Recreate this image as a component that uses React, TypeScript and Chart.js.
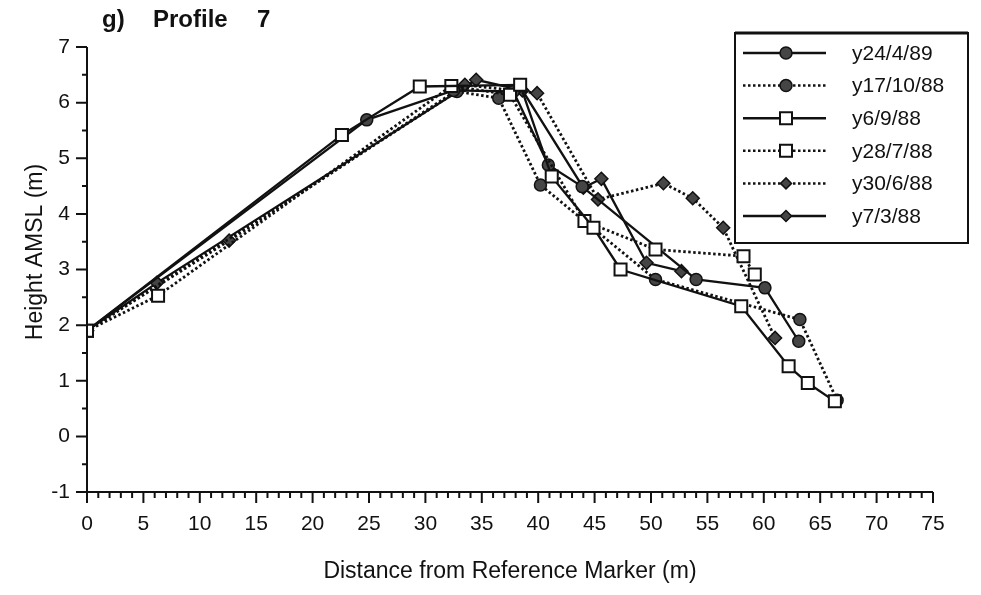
import React, { useEffect, useRef } from "react";
import { Chart, registerables } from "chart.js";

Chart.register(...registerables);

const FONT = "'Liberation Sans', Arial, Helvetica, sans-serif";

const seriesLabels = ["y24/4/89", "y17/10/88", "y6/9/88", "y28/7/88", "y30/6/88", "y7/3/88"];

// y24/4/89 (solid, filled circle)
const dist24Apr89 = [0, 24.8, 32.5, 37.8, 40.9, 43.9, 54.0, 60.1, 63.1];
const height24Apr89 = [1.9, 5.69, 6.22, 6.2, 4.88, 4.49, 2.82, 2.67, 1.71];

// y17/10/88 (dotted, filled circle)
const dist17Oct88 = [0, 32.8, 36.5, 40.2, 50.4, 63.2, 66.5];
const height17Oct88 = [1.9, 6.2, 6.08, 4.52, 2.82, 2.1, 0.65];

// y6/9/88 (solid, open square)
const dist6Sep88 = [0, 22.6, 29.5, 38.4, 41.2, 44.9, 47.3, 58.0, 62.2, 63.9, 66.3];
const height6Sep88 = [1.9, 5.42, 6.29, 6.32, 4.67, 3.75, 3.0, 2.34, 1.26, 0.96, 0.63];

// y28/7/88 (dotted, open square)
const dist28Jul88 = [0, 6.3, 32.3, 37.5, 44.1, 50.4, 58.2, 59.2];
const height28Jul88 = [1.9, 2.53, 6.3, 6.14, 3.87, 3.36, 3.24, 2.91];

// y30/6/88 (dotted, filled diamond)
const dist30Jun88 = [0, 12.6, 33.5, 39.9, 45.3, 51.1, 53.7, 56.4, 61.0];
const height30Jun88 = [1.9, 3.52, 6.32, 6.17, 4.26, 4.55, 4.28, 3.75, 1.77];

// y7/3/88 (solid, filled diamond)
const dist7Mar88 = [0, 6.2, 34.5, 38.6, 44.0, 45.6, 49.6, 52.7];
const height7Mar88 = [1.9, 2.76, 6.41, 6.22, 4.47, 4.63, 3.12, 2.97];

const xTickStep = 5;
const yTickStep = 1;

type Kind = { dotted: boolean; marker: "circle" | "square" | "diamond" };
const kinds: Kind[] = [
  { dotted: false, marker: "circle" },
  { dotted: true, marker: "circle" },
  { dotted: false, marker: "square" },
  { dotted: true, marker: "square" },
  { dotted: true, marker: "diamond" },
  { dotted: false, marker: "diamond" },
];

const seriesX = [dist24Apr89, dist17Oct88, dist6Sep88, dist28Jul88, dist30Jun88, dist7Mar88];
const seriesY = [height24Apr89, height17Oct88, height6Sep88, height28Jul88, height30Jun88, height7Mar88];

const INK = "#111111";
const FILL = "#454545";
const DASH = [2.5, 2.5];

function pointOpts(k: Kind) {
  if (k.marker === "circle")
    return { pointStyle: "circle", pointRadius: 6, pointBackgroundColor: FILL, pointBorderColor: INK, pointBorderWidth: 1.5 };
  if (k.marker === "square")
    return { pointStyle: "rect", pointRadius: 8.5, pointBackgroundColor: "#ffffff", pointBorderColor: INK, pointBorderWidth: 2 };
  return { pointStyle: "rectRot", pointRadius: 6.5, pointBackgroundColor: FILL, pointBorderColor: INK, pointBorderWidth: 1.5 };
}

function drawMarker(ctx: CanvasRenderingContext2D, k: Kind, x: number, y: number) {
  ctx.save();
  ctx.setLineDash([]);
  ctx.strokeStyle = INK;
  if (k.marker === "circle") {
    ctx.fillStyle = FILL;
    ctx.lineWidth = 1.5;
    ctx.beginPath();
    ctx.arc(x, y, 6, 0, Math.PI * 2);
    ctx.fill();
    ctx.stroke();
  } else if (k.marker === "square") {
    ctx.fillStyle = "#ffffff";
    ctx.lineWidth = 2;
    ctx.beginPath();
    ctx.rect(x - 6, y - 6, 12, 12);
    ctx.fill();
    ctx.stroke();
  } else {
    ctx.fillStyle = FILL;
    ctx.lineWidth = 1.5;
    ctx.beginPath();
    ctx.moveTo(x, y - 5.5);
    ctx.lineTo(x + 5.5, y);
    ctx.lineTo(x, y + 5.5);
    ctx.lineTo(x - 5.5, y);
    ctx.closePath();
    ctx.fill();
    ctx.stroke();
  }
  ctx.restore();
}

const decorPlugin = {
  id: "decor",
  afterDraw(chart: any) {
    const ctx: CanvasRenderingContext2D = chart.ctx;
    const xs = chart.scales.x;
    const ys = chart.scales.y;
    const x0 = xs.getPixelForValue(xs.min);
    const x1 = xs.getPixelForValue(xs.max);
    const yT = ys.getPixelForValue(ys.max);
    const yB = ys.getPixelForValue(ys.min);
    ctx.save();
    ctx.strokeStyle = INK;
    ctx.lineWidth = 2;
    ctx.setLineDash([]);
    ctx.beginPath();
    ctx.moveTo(x0, yT);
    ctx.lineTo(x0, yB);
    ctx.moveTo(x0, yB);
    ctx.lineTo(x1, yB);
    ctx.stroke();
    // y ticks (major each unit, minor each half)
    ctx.beginPath();
    for (let i = 0; i <= (ys.max - ys.min) * 2; i++) {
      const v = ys.min + i * 0.5;
      const p = ys.getPixelForValue(v);
      const len = i % 2 === 0 ? 11 : 5;
      ctx.moveTo(x0 - len, p);
      ctx.lineTo(x0, p);
    }
    // x ticks (major each 5, minor each 1)
    for (let v = xs.min; v <= xs.max; v++) {
      const p = xs.getPixelForValue(v);
      const len = v % xTickStep === 0 ? 11 : 6;
      ctx.moveTo(p, yB);
      ctx.lineTo(p, yB + len);
    }
    ctx.stroke();

    // Title
    ctx.fillStyle = INK;
    ctx.font = `bold 24px ${FONT}`;
    ctx.textBaseline = "alphabetic";
    ctx.textAlign = "left";
    ctx.fillText("g)", 102, 27);
    ctx.fillText("Profile", 153, 27);
    ctx.fillText("7", 257, 27);

    // Y axis title
    ctx.save();
    ctx.translate(36, 252);
    ctx.rotate(-Math.PI / 2);
    ctx.font = `23px ${FONT}`;
    ctx.textAlign = "center";
    ctx.textBaseline = "middle";
    ctx.fillText("Height AMSL (m)", 0, 0);
    ctx.restore();

    // Legend box
    const bx = 735, by = 33, bw = 233, bh = 210;
    ctx.lineWidth = 2;
    ctx.strokeRect(bx, by, bw, bh);
    ctx.lineWidth = 3;
    ctx.beginPath();
    ctx.moveTo(bx, by);
    ctx.lineTo(bx + bw, by);
    ctx.stroke();

    ctx.font = `21px ${FONT}`;
    ctx.textAlign = "left";
    ctx.textBaseline = "middle";
    seriesLabels.forEach((lab, i) => {
      const k = kinds[i];
      const ly = 53 + i * 32.6;
      ctx.save();
      ctx.strokeStyle = INK;
      ctx.lineWidth = k.dotted ? 2.5 : 2.5;
      ctx.setLineDash(k.dotted ? DASH : []);
      ctx.beginPath();
      ctx.moveTo(743, ly);
      ctx.lineTo(826, ly);
      ctx.stroke();
      ctx.restore();
      drawMarker(ctx, k, 786, ly);
      ctx.fillStyle = INK;
      ctx.fillText(lab, 852, ly + 1);
    });
    ctx.restore();
  },
};

export default function App() {
  const ref = useRef<HTMLCanvasElement>(null);
  useEffect(() => {
    const datasets = seriesLabels.map((label, i) => ({
      label,
      data: seriesX[i].map((x, j) => ({ x, y: seriesY[i][j] })),
      showLine: true,
      borderColor: INK,
      borderWidth: kinds[i].dotted ? 2.8 : 2.3,
      borderDash: kinds[i].dotted ? DASH : [],
      fill: false,
      tension: 0,
      order: kinds[i].marker === "square" ? 0 : 1,
      ...pointOpts(kinds[i]),
    }));
    const chart = new Chart(ref.current as HTMLCanvasElement, {
      type: "scatter",
      data: { datasets: datasets as any },
      options: {
        responsive: false,
        animation: false,
        devicePixelRatio: 1,
        events: [],
        layout: { padding: { top: 47, right: 48, left: 0, bottom: 0 } },
        plugins: { legend: { display: false }, tooltip: { enabled: false } },
        scales: {
          x: {
            type: "linear",
            min: 0,
            max: 75,
            ticks: { stepSize: xTickStep, color: INK, font: { family: FONT, size: 21 }, padding: 20, maxRotation: 0, autoSkip: false },
            grid: { display: false, drawTicks: false },
            border: { display: false },
            title: { display: true, text: "Distance from Reference Marker (m)", color: INK, font: { family: FONT, size: 23 }, padding: { top: 0, bottom: 10 } },
            afterFit: (s: any) => { s.height = 103; },
          },
          y: {
            type: "linear",
            min: -1,
            max: 7,
            ticks: { stepSize: yTickStep, color: INK, font: { family: FONT, size: 21 }, padding: 17 },
            grid: { display: false, drawTicks: false },
            border: { display: false },
            afterFit: (s: any) => { s.width = 87; },
          },
        },
      } as any,
      plugins: [decorPlugin],
    });
    return () => chart.destroy();
  }, []);
  return (
    <div style={{ position: "fixed", left: 0, top: 0, width: 981, height: 595, background: "#ffffff" }}>
      <canvas ref={ref} width={981} height={595} style={{ display: "block" }} />
    </div>
  );
}
